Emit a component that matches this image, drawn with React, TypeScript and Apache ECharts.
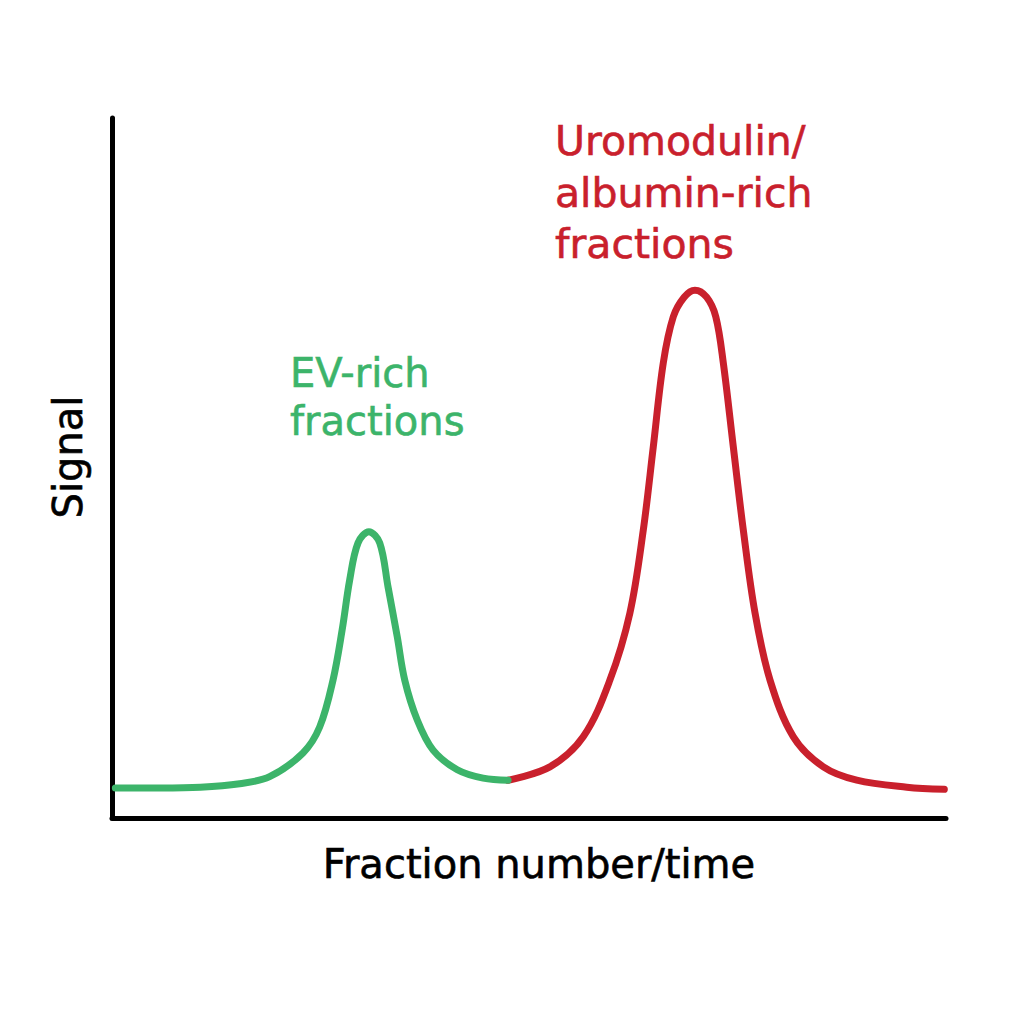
import React, { useEffect, useRef } from "react";
import * as echarts from "echarts";

// EV-rich fractions (green) trace: fraction position (0-100) and signal (0-100)
const greenX = [0.4, 5.8, 10.6, 15.3, 18.9, 22.9, 24.9, 26.5, 27.6, 28.5, 29.5, 30.8, 32.1, 33.1, 34.2, 35.1, 36.6, 38.5, 41.4, 44.5, 47.5];
const greenY = [4.3, 4.3, 4.4, 4.9, 5.9, 9.3, 13.0, 19.7, 26.9, 34.0, 39.3, 40.9, 39.3, 33.0, 25.9, 19.7, 14.0, 9.7, 6.9, 5.7, 5.4];

// Uromodulin/albumin-rich fractions (red) trace
const redX = [47.5, 52.5, 56.5, 59.7, 62.1, 63.7, 64.9, 66.1, 67.3, 68.6, 69.9, 71.3, 72.4, 73.3, 74.5, 75.7, 77.1, 78.9, 81.7, 85.3, 89.3, 95.3, 99.8];
const redY = [5.4, 7.3, 11.6, 19.7, 29.3, 41.1, 53.0, 65.0, 71.6, 74.4, 75.4, 74.4, 71.6, 65.0, 53.0, 41.1, 29.3, 19.7, 11.6, 7.3, 5.4, 4.4, 4.1];

const greenLabel = ["EV-rich", "fractions"];
const redLabel = ["Uromodulin/", "albumin-rich", "fractions"];
const xTitle = "Fraction number/time";
const yTitle = "Signal";

const GREEN = "#3cb46a";
const RED = "#c9202c";
const FONT = "DejaVu Sans";

export default function App() {
  const ref = useRef<HTMLDivElement>(null);
  useEffect(() => {
    if (!ref.current) return;
    const chart = echarts.init(ref.current, undefined, { renderer: "svg" });
    const zip = (xs: number[], ys: number[]) => xs.map((x, i) => [x, ys[i]]);
    const textStyle = (color: string, size = 40) => ({
      fill: color,
      fontFamily: FONT,
      fontSize: size,
      verticalAlign: "middle",
      stroke: color,
      lineWidth: 0.6,
    });
    chart.setOption({
      animation: false,
      backgroundColor: "#ffffff",
      grid: { left: 112, right: 78, top: 118, bottom: 206 },
      xAxis: {
        type: "value",
        min: 0,
        max: 100,
        axisLine: { show: true, onZero: false, lineStyle: { color: "#000", width: 5, cap: "round" } },
        axisTick: { show: false },
        axisLabel: { show: false },
        splitLine: { show: false },
      },
      yAxis: {
        type: "value",
        min: 0,
        max: 100,
        axisLine: { show: true, onZero: false, lineStyle: { color: "#000", width: 5, cap: "round" } },
        axisTick: { show: false },
        axisLabel: { show: false },
        splitLine: { show: false },
      },
      series: [
        {
          type: "line",
          data: zip(greenX, greenY),
          smooth: 0.35,
          showSymbol: false,
          lineStyle: { color: GREEN, width: 7, cap: "round" },
          z: 3,
        },
        {
          type: "line",
          data: zip(redX, redY),
          smooth: 0.35,
          showSymbol: false,
          lineStyle: { color: RED, width: 7, cap: "round" },
          z: 2,
        },
      ],
      graphic: [
        ...greenLabel.map((t, i) => ({
          type: "text",
          x: 290,
          y: 373 + i * 48,
          style: { ...textStyle(GREEN), text: t, align: "left" },
        })),
        ...redLabel.map((t, i) => ({
          type: "text",
          x: 555,
          y: 141 + i * 51.5,
          style: { ...textStyle(RED, 41), text: t, align: "left" },
        })),
        {
          type: "text",
          x: 539,
          y: 864,
          style: { ...textStyle("#000"), text: xTitle, align: "center" },
        },
        {
          type: "text",
          x: 68,
          y: 457,
          rotation: Math.PI / 2,
          style: { ...textStyle("#000"), text: yTitle, align: "center" },
        },
      ],
    });
    return () => chart.dispose();
  }, []);
  return (
    <div
      ref={ref}
      style={{ position: "absolute", left: 0, top: 0, width: 1024, height: 1024, background: "#fff" }}
    />
  );
}
